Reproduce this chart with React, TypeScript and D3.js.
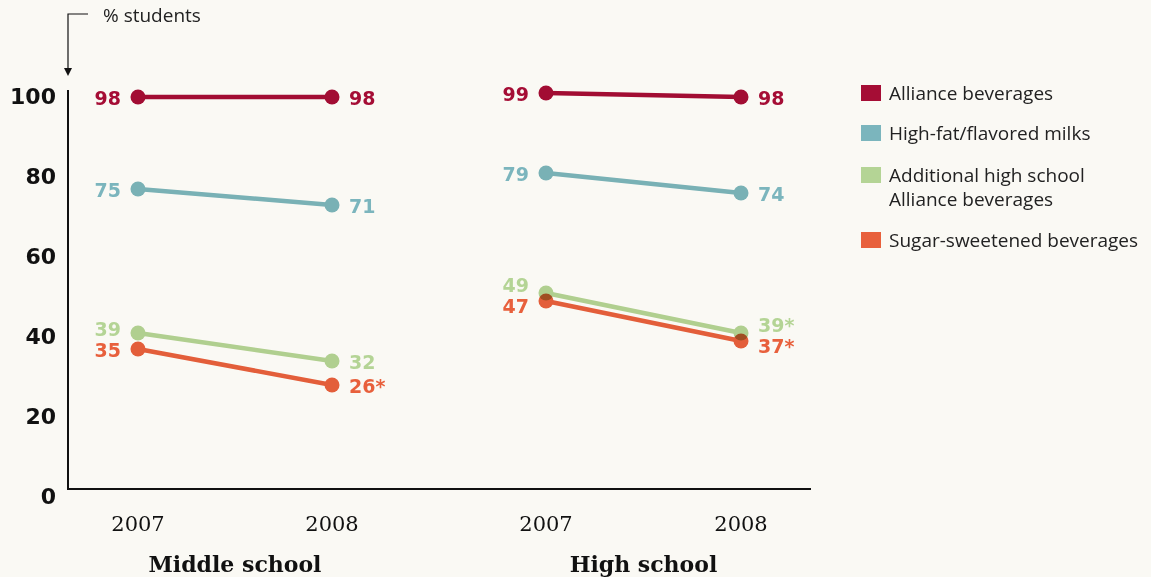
import React from "react";
import * as d3 from "d3";

const groups = ["Middle school", "High school"];
const years = ["2007", "2008"];
const seriesNames = [
  "Alliance beverages",
  "High-fat/flavored milks",
  "Additional high school Alliance beverages",
  "Sugar-sweetened beverages",
];
const legendLines = [
  ["Alliance beverages"],
  ["High-fat/flavored milks"],
  ["Additional high school", "Alliance beverages"],
  ["Sugar-sweetened beverages"],
];
const colors = ["#A50D35", "#7BB5BD", "#B4D495", "#E8603C"];
// values[group][year]
const allianceValues = [[98, 98], [99, 98]];
const milkValues = [[75, 71], [79, 74]];
const additionalValues = [[39, 32], [49, 39]];
const sugarValues = [[35, 26], [47, 37]];
const significant = [
  [[false, false], [false, false]],
  [[false, false], [false, false]],
  [[false, false], [false, true]],
  [[false, true], [false, true]],
];
const yTicks = [0, 20, 40, 60, 80, 100];

const W = 1151;
const H = 577;

export default function App() {
  const values = [allianceValues, milkValues, additionalValues, sugarValues];
  const y = d3.scaleLinear().domain([0, 100]).range([489, 89]);
  const xMS = d3.scalePoint().domain(years).range([138, 332]);
  const xHS = d3.scalePoint().domain(years).range([546, 741]);
  const xs = [xMS, xHS];
  const line = d3.line<[number, number]>().x((d) => d[0]).y((d) => d[1]);

  // label positions with collision avoidance
  const labelY: number[][][] = values.map((s) => s.map((g) => g.map((v) => y(v))));
  for (let g = 0; g < 2; g++) {
    for (let yi = 0; yi < 2; yi++) {
      const a = labelY[2][g][yi];
      const b = labelY[3][g][yi];
      const minGap = 19;
      if (b - a < minGap) {
        const mid = (a + b) / 2;
        labelY[2][g][yi] = mid - minGap / 2 - 3;
        labelY[3][g][yi] = mid + minGap / 2 - 1;
      }
    }
  }

  const labelFont = "'DejaVu Sans', sans-serif";
  const sans = "'Open Sans', sans-serif";
  return (
    <svg width={W} height={H} style={{ position: "absolute", left: 0, top: 0, background: "#FAF9F4" }}>
      <rect x={0} y={0} width={W} height={H} fill="#FAF9F4" />
      {/* annotation */}
      <path d="M88,14 H68 V70" fill="none" stroke="#111" strokeWidth={1.2} />
      <path d="M64,68 L72,68 L68,76 Z" fill="#111" />
      <text x={103} y={22} fontFamily={sans} fontSize={19} fill="#222">% students</text>
      {/* axes */}
      <line x1={68} x2={68} y1={90} y2={489} stroke="#111" strokeWidth={2} />
      <line x1={67} x2={811} y1={489} y2={489} stroke="#111" strokeWidth={2} />
      {yTicks.map((t) => (
        <text key={t} x={56} y={y(t) + 15} textAnchor="end" fontFamily={labelFont} fontWeight={900} fontSize={22} fill="#111">
          {t}
        </text>
      ))}
      {groups.map((g, gi) => (
        <g key={g}>
          {years.map((yr) => (
            <text key={yr} x={xs[gi](yr)!} y={531} textAnchor="middle" fontFamily="'DejaVu Serif', serif" fontSize={21} fill="#111">
              {yr}
            </text>
          ))}
          <text x={(xs[gi](years[0])! + xs[gi](years[1])!) / 2} y={572} textAnchor="middle" fontFamily="'DejaVu Serif', serif" fontWeight={700} fontSize={22} fill="#111">
            {g}
          </text>
        </g>
      ))}
      {values.map((s, si) => (
        <g key={si} style={{ mixBlendMode: "multiply" }}>
          {s.map((gv, gi) => {
            const pts: [number, number][] = gv.map((v, yi) => [xs[gi](years[yi])!, y(v)]);
            return (
              <g key={gi}>
                <path d={line(pts)!} fill="none" stroke={colors[si]} strokeWidth={4.5} />
                {pts.map((p, pi) => (
                  <circle key={pi} cx={p[0]} cy={p[1]} r={7.5} fill={colors[si]} />
                ))}
              </g>
            );
          })}
        </g>
      ))}
      {values.map((s, si) =>
        s.map((gv, gi) =>
          gv.map((v, yi) => (
            <text
              key={`${si}-${gi}-${yi}`}
              x={xs[gi](years[yi])! + (yi === 0 ? -17 : 17)}
              y={labelY[si][gi][yi] + 7.5}
              textAnchor={yi === 0 ? "end" : "start"}
              fontFamily={labelFont}
              fontWeight={700}
              fontSize={19}
              fill={colors[si]}
            >
              {v}
              {significant[si][gi][yi] ? "*" : ""}
            </text>
          ))
        )
      )}
      {/* legend */}
      {legendLines.map((ls, i) => {
        const tops = [85, 125, 167, 232];
        return (
          <g key={i}>
            <rect x={861} y={tops[i]} width={20} height={16} fill={colors[i]} />
            {ls.map((l, li) => (
              <text key={li} x={889} y={tops[i] + 15 + li * 23.5} fontFamily={sans} fontSize={19} fill="#222">
                {l}
              </text>
            ))}
          </g>
        );
      })}
    </svg>
  );
}
